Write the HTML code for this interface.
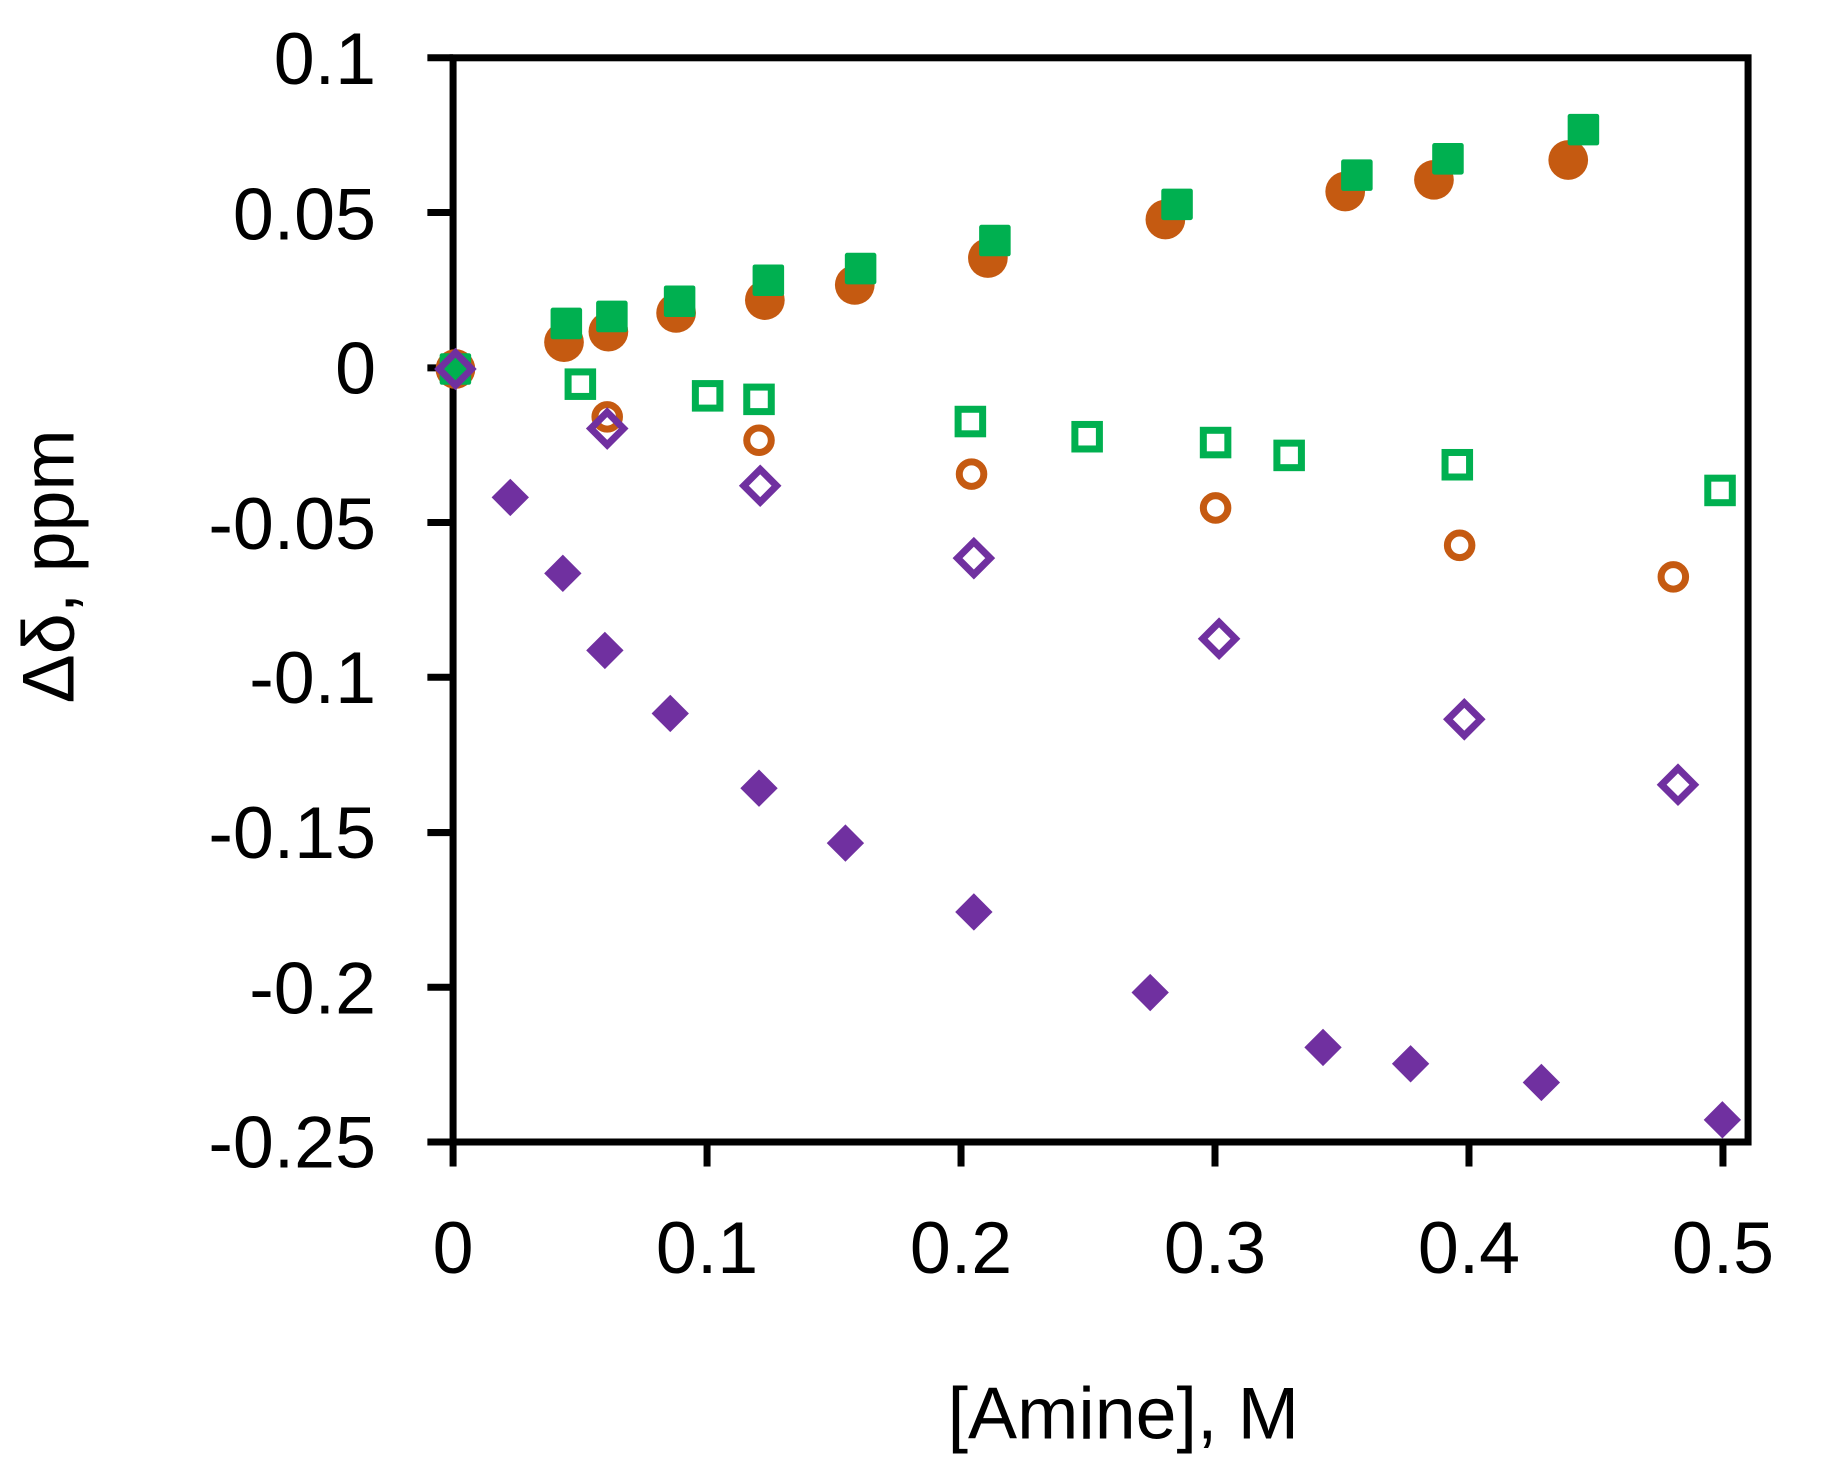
<!DOCTYPE html>
<html><head><meta charset="utf-8"><style>
html,body{margin:0;padding:0;background:#fff;}
svg{display:block;}
text{font-family:"Liberation Sans",sans-serif;fill:#000;}
</style></head><body>
<svg width="1827" height="1463" viewBox="0 0 1564.6 1252.9" preserveAspectRatio="none" xmlns="http://www.w3.org/2000/svg">
<defs>
<rect id="fs" x="-13.5" y="-13.5" width="27" height="27" rx="2" fill="#00b050"/>
<circle id="fc" r="17" fill="#c55a11"/>
<rect id="os" x="-10.5" y="-10.5" width="21" height="21" fill="none" stroke="#00b050" stroke-width="6"/>
<circle id="oc" r="10.5" fill="none" stroke="#c55a11" stroke-width="6"/>
<path id="od" d="M0,-14 L14,0 L0,14 L-14,0 Z" fill="none" stroke="#7030a0" stroke-width="6"/>
<path id="fd" d="M0,-16 L16,0 L0,16 L-16,0 Z" fill="#7030a0"/>
</defs>
<g stroke="#000" stroke-width="6" fill="none">
<rect x="388" y="49.5" width="1109" height="928.5"/>
<line x1="366" y1="49.5" x2="388" y2="49.5"/>
<line x1="366" y1="182" x2="388" y2="182"/>
<line x1="366" y1="315" x2="388" y2="315"/>
<line x1="366" y1="447.5" x2="388" y2="447.5"/>
<line x1="366" y1="580" x2="388" y2="580"/>
<line x1="366" y1="713" x2="388" y2="713"/>
<line x1="366" y1="845.5" x2="388" y2="845.5"/>
<line x1="366" y1="978" x2="388" y2="978"/>
<line x1="388" y1="978" x2="388" y2="999"/>
<line x1="605.5" y1="978" x2="605.5" y2="999"/>
<line x1="823" y1="978" x2="823" y2="999"/>
<line x1="1040.5" y1="978" x2="1040.5" y2="999"/>
<line x1="1258" y1="978" x2="1258" y2="999"/>
<line x1="1475.5" y1="978" x2="1475.5" y2="999"/>
</g>
<g font-size="63" text-anchor="end">
<text x="322" y="72">0.1</text>
<text x="322" y="205">0.05</text>
<text x="322" y="337">0</text>
<text x="322" y="470">-0.05</text>
<text x="322" y="602">-0.1</text>
<text x="322" y="735">-0.15</text>
<text x="322" y="868">-0.2</text>
<text x="322" y="1000">-0.25</text>
</g>
<g font-size="63" text-anchor="middle">
<text x="388" y="1090">0</text>
<text x="605.5" y="1090">0.1</text>
<text x="823" y="1090">0.2</text>
<text x="1040.5" y="1090">0.3</text>
<text x="1258" y="1090">0.4</text>
<text x="1475.5" y="1090">0.5</text>
<text x="962" y="1232">[Amine], M</text>
<text transform="translate(63,485) rotate(-90)">Δδ, ppm</text>
</g>
<use href="#fc" x="390" y="316"/><use href="#fs" x="390" y="316"/>
<use href="#fc" x="483" y="293"/><use href="#fc" x="521" y="284"/><use href="#fc" x="579" y="268"/><use href="#fc" x="655" y="257"/><use href="#fc" x="732" y="244"/><use href="#fc" x="846" y="221"/><use href="#fc" x="998" y="188"/><use href="#fc" x="1152" y="164"/><use href="#fc" x="1228" y="154"/><use href="#fc" x="1343" y="137"/>
<use href="#fs" x="485" y="277"/><use href="#fs" x="524" y="271"/><use href="#fs" x="582" y="258"/><use href="#fs" x="658" y="240"/><use href="#fs" x="737" y="230"/><use href="#fs" x="852" y="206"/><use href="#fs" x="1008" y="175"/><use href="#fs" x="1162" y="150"/><use href="#fs" x="1240" y="136"/><use href="#fs" x="1356" y="111"/>
<use href="#os" x="497" y="329"/><use href="#os" x="606" y="339"/><use href="#os" x="650" y="342"/><use href="#os" x="831" y="361"/><use href="#os" x="931" y="374"/><use href="#os" x="1041" y="379"/><use href="#os" x="1104" y="390"/><use href="#os" x="1248" y="398"/><use href="#os" x="1473" y="420"/>
<use href="#oc" x="520" y="357"/><use href="#oc" x="650" y="377"/><use href="#oc" x="832" y="406"/><use href="#oc" x="1041" y="435"/><use href="#oc" x="1250" y="467"/><use href="#oc" x="1433" y="494"/>
<use href="#od" x="520" y="367"/><use href="#od" x="651" y="416"/><use href="#od" x="834" y="478"/><use href="#od" x="1044" y="547"/><use href="#od" x="1254" y="616"/><use href="#od" x="1437" y="672"/>
<use href="#od" x="390" y="316"/>
<use href="#fd" x="437" y="426"/><use href="#fd" x="482" y="491"/><use href="#fd" x="518" y="557"/><use href="#fd" x="574" y="611"/><use href="#fd" x="650" y="675"/><use href="#fd" x="724" y="722"/><use href="#fd" x="834" y="781"/><use href="#fd" x="985" y="850"/><use href="#fd" x="1133" y="897"/><use href="#fd" x="1208" y="911"/><use href="#fd" x="1320" y="927"/><use href="#fd" x="1475" y="959"/>
</svg>
</body></html>
